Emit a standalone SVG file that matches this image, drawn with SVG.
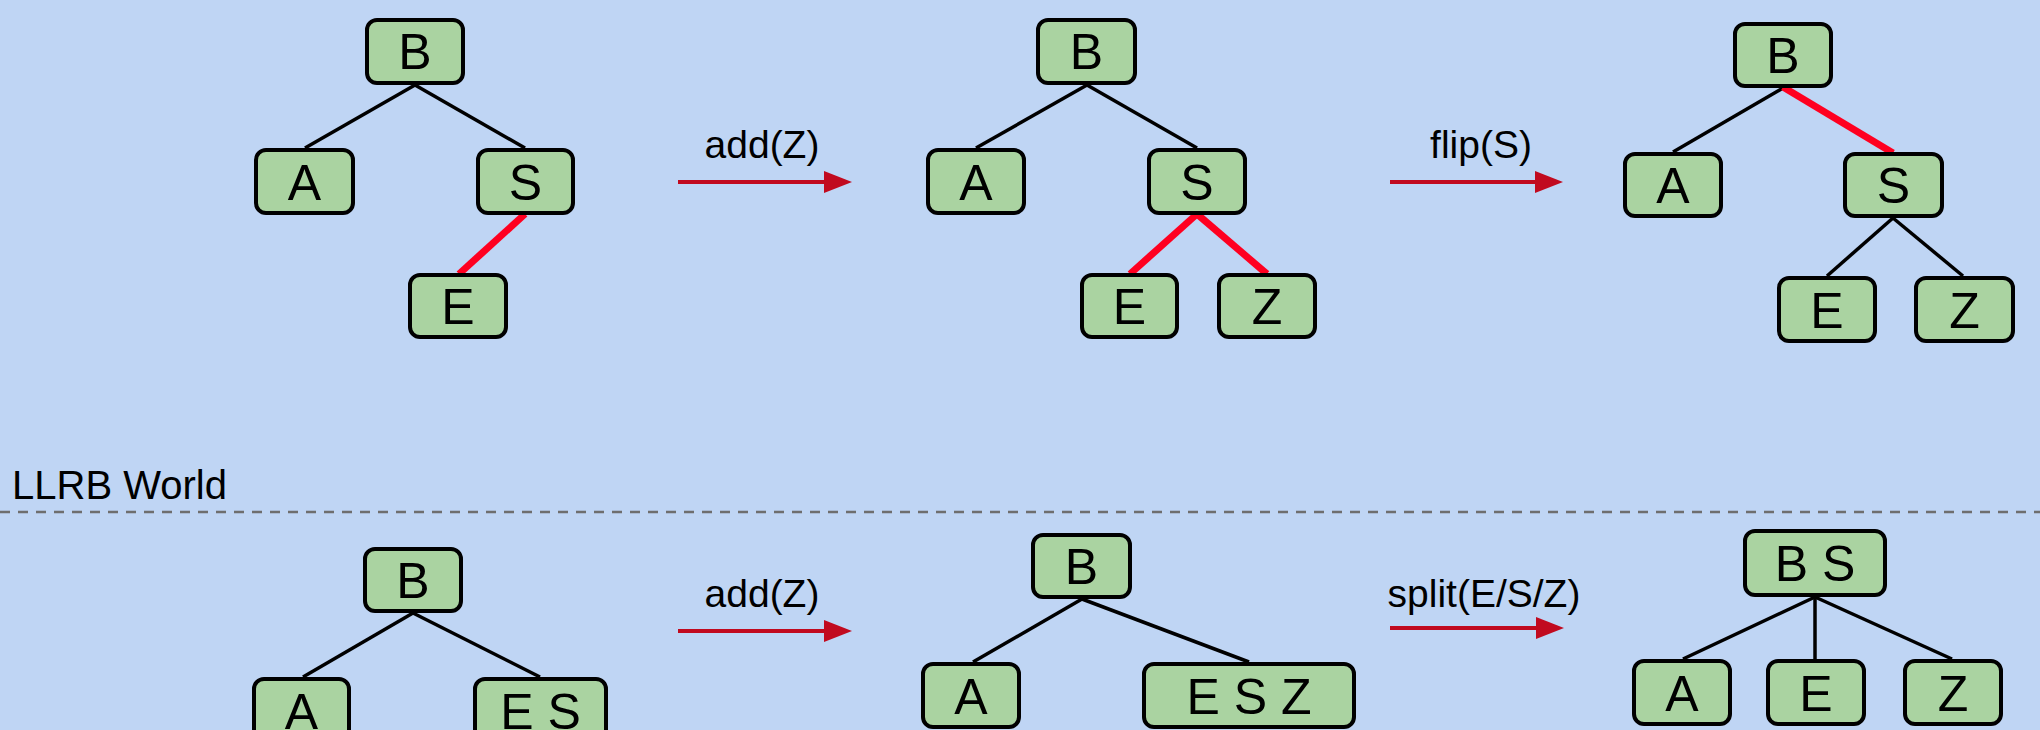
<svg xmlns="http://www.w3.org/2000/svg" width="2040" height="730" viewBox="0 0 2040 730">
<style>
.bg{fill:#bfd5f4}
.node rect{fill:#aad3a1;stroke:#000;stroke-width:4}
.node text{font-family:"Liberation Sans",Arial,sans-serif;font-size:50px;fill:#000;text-anchor:middle}
.e{stroke:#000;stroke-width:3.5;fill:none}
.r{stroke:#ff0020;stroke-width:7;fill:none}
.arr{stroke:#c10a1f;stroke-width:4;fill:none}
.lbl{font-family:"Liberation Sans",Arial,sans-serif;font-size:39px;fill:#000;text-anchor:middle}
.sep{stroke:#6e6e6e;stroke-width:2.5;stroke-dasharray:10 8}
</style>
<defs>
<marker id="ah" markerUnits="userSpaceOnUse" markerWidth="30" markerHeight="24" refX="6" refY="11" orient="auto">
<path d="M0,0 L28,11 L0,22 z" fill="#c10a1f"/>
</marker>
</defs>
<rect class="bg" x="0" y="0" width="2040" height="730"/>
<text x="12" y="499" font-family="Liberation Sans, Arial, sans-serif" font-size="40" fill="#000">LLRB World</text>
<line class="sep" x1="0" y1="512" x2="2040" y2="512"/>
<g id="connectors">
<line class="e" x1="415" y1="85" x2="305" y2="148"/>
<line class="e" x1="415" y1="85" x2="525" y2="148"/>
<line class="r" x1="525" y1="214" x2="459" y2="274"/>
<line class="e" x1="1087" y1="85" x2="976" y2="148"/>
<line class="e" x1="1087" y1="85" x2="1197" y2="148"/>
<line class="r" x1="1197" y1="214" x2="1130" y2="274"/>
<line class="r" x1="1197" y1="214" x2="1267" y2="274"/>
<line class="e" x1="1783" y1="88" x2="1673" y2="152"/>
<line class="r" x1="1783" y1="87" x2="1893" y2="153"/>
<line class="e" x1="1893" y1="218" x2="1827" y2="276"/>
<line class="e" x1="1893" y1="218" x2="1963" y2="276"/>
<line class="e" x1="413" y1="613" x2="303" y2="677"/>
<line class="e" x1="413" y1="613" x2="540" y2="677"/>
<line class="e" x1="1082" y1="599" x2="973" y2="662"/>
<line class="e" x1="1082" y1="599" x2="1249" y2="662"/>
<line class="e" x1="1815" y1="597" x2="1683" y2="659"/>
<line class="e" x1="1815" y1="597" x2="1815" y2="659"/>
<line class="e" x1="1815" y1="597" x2="1952" y2="659"/>
<line class="arr" x1="678" y1="182" x2="830" y2="182" marker-end="url(#ah)"/>
<line class="arr" x1="1390" y1="182" x2="1541" y2="182" marker-end="url(#ah)"/>
<line class="arr" x1="678" y1="631" x2="830" y2="631" marker-end="url(#ah)"/>
<line class="arr" x1="1390" y1="628" x2="1542" y2="628" marker-end="url(#ah)"/>
</g>
<g id="labels">
<text class="lbl" x="762" y="158">add(Z)</text>
<text class="lbl" x="1481" y="158">flip(S)</text>
<text class="lbl" x="762" y="607">add(Z)</text>
<text class="lbl" x="1484" y="607">split(E/S/Z)</text>
</g>
<g id="t1-B" class="node"><rect x="367" y="20" width="96" height="63" rx="10"/><text x="415" y="69">B</text></g>
<g id="t1-A" class="node"><rect x="256" y="150" width="97" height="63" rx="10"/><text x="304.5" y="199.5">A</text></g>
<g id="t1-S" class="node"><rect x="478" y="150" width="95" height="63" rx="10"/><text x="525.5" y="199.5">S</text></g>
<g id="t1-E" class="node"><rect x="410" y="275" width="96" height="62" rx="10"/><text x="458" y="324">E</text></g>
<g id="t2-B" class="node"><rect x="1038" y="20" width="97" height="63" rx="10"/><text x="1086.5" y="69">B</text></g>
<g id="t2-A" class="node"><rect x="928" y="150" width="96" height="63" rx="10"/><text x="976" y="199.5">A</text></g>
<g id="t2-S" class="node"><rect x="1149" y="150" width="96" height="63" rx="10"/><text x="1197" y="199.5">S</text></g>
<g id="t2-E" class="node"><rect x="1082" y="275" width="95" height="62" rx="10"/><text x="1129.5" y="324">E</text></g>
<g id="t2-Z" class="node"><rect x="1219" y="275" width="96" height="62" rx="10"/><text x="1267" y="324">Z</text></g>
<g id="t3-B" class="node"><rect x="1735" y="24" width="96" height="62" rx="10"/><text x="1783" y="73">B</text></g>
<g id="t3-A" class="node"><rect x="1625" y="154" width="96" height="62" rx="10"/><text x="1673" y="203">A</text></g>
<g id="t3-S" class="node"><rect x="1845" y="154" width="97" height="62" rx="10"/><text x="1893.5" y="203">S</text></g>
<g id="t3-E" class="node"><rect x="1779" y="278" width="96" height="63" rx="10"/><text x="1827" y="327.5">E</text></g>
<g id="t3-Z" class="node"><rect x="1916" y="278" width="97" height="63" rx="10"/><text x="1964.5" y="327.5">Z</text></g>
<g id="t4-B" class="node"><rect x="365" y="549" width="96" height="62" rx="10"/><text x="413" y="598">B</text></g>
<g id="t4-A" class="node"><rect x="254" y="679" width="95" height="63" rx="10"/><text x="301.5" y="728.5">A</text></g>
<g id="t4-ES" class="node"><rect x="475" y="679" width="131" height="63" rx="10"/><text x="540.5" y="728.5">E S</text></g>
<g id="t5-B" class="node"><rect x="1033" y="535" width="97" height="62" rx="10"/><text x="1081.5" y="584">B</text></g>
<g id="t5-A" class="node"><rect x="923" y="664" width="96" height="63" rx="10"/><text x="971" y="713.5">A</text></g>
<g id="t5-ESZ" class="node"><rect x="1144" y="664" width="210" height="63" rx="10"/><text x="1249" y="713.5">E S Z</text></g>
<g id="t6-BS" class="node"><rect x="1745" y="531" width="140" height="64" rx="10"/><text x="1815" y="581">B S</text></g>
<g id="t6-A" class="node"><rect x="1634" y="661" width="96" height="63" rx="10"/><text x="1682" y="710.5">A</text></g>
<g id="t6-E" class="node"><rect x="1768" y="661" width="96" height="63" rx="10"/><text x="1816" y="710.5">E</text></g>
<g id="t6-Z" class="node"><rect x="1905" y="661" width="96" height="63" rx="10"/><text x="1953" y="710.5">Z</text></g>
</svg>
